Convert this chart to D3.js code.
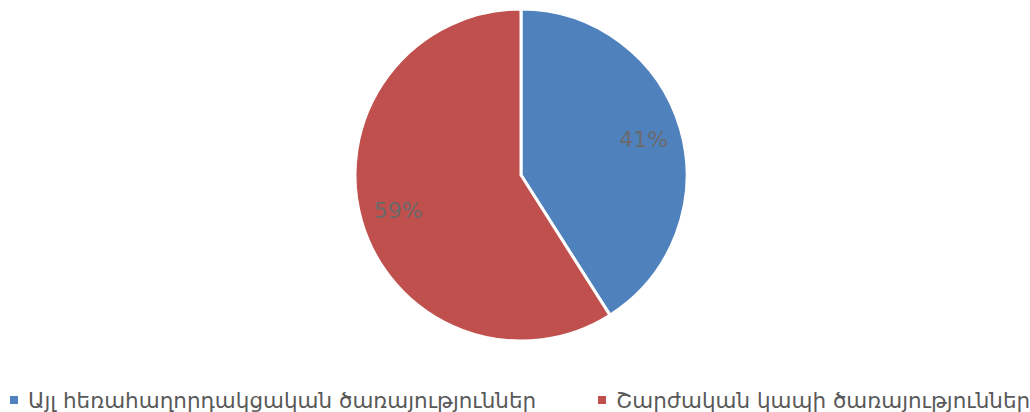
<!DOCTYPE html>
<html>
<head>
<meta charset="utf-8">
<script src="https://cdn.jsdelivr.net/npm/d3@7"></script>
<style>
    body { margin: 0; background: #fff; }
    svg { display: block; font-family: 'DejaVu Sans', Verdana, sans-serif; }
</style>
</head>
<body>
<svg id="chart"></svg>
<script>
const categories = ['Այլ հեռահաղորդակցական ծառայություններ', 'Շարժական կապի ծառայություններ'];
const values = [41, 59];
const labels = ['41%', '59%'];
const colors = ['#4F81BD', '#C0504D'];

const pie = () => {
    const w = 1030;
    const h = 412;
    const center = { x: 521, y: 175 };
    const radius = 166;

    const svg = d3.select('#chart').attr('width', w).attr('height', h);

    const data = categories.map((c, i) => ({ name: c, value: values[i], label: labels[i], color: colors[i] }));

    const arcs = d3.pie().sort(null).value((d) => d.value)(data);

    const arc = d3.arc().innerRadius(0).outerRadius(radius);
    const labelArc = d3.arc().innerRadius(radius * 0.77).outerRadius(radius * 0.77);

    const g = svg.append('g').attr('transform', `translate(${center.x},${center.y})`);

    g.selectAll('.slice')
        .data(arcs)
        .enter()
        .append('path')
        .attr('class', 'slice')
        .attr('d', arc)
        .attr('fill', (d) => d.data.color)
        .attr('stroke', '#fff')
        .attr('stroke-width', 3)
        .attr('stroke-linejoin', 'round');

    g.selectAll('.label')
        .data(arcs)
        .enter()
        .append('text')
        .attr('class', 'label')
        .attr('transform', (d) => `translate(${labelArc.centroid(d)})`)
        .attr('text-anchor', 'middle')
        .attr('dominant-baseline', 'central')
        .attr('font-size', 22)
        .attr('fill', '#6a6a6a')
        .text((d) => d.data.label);

    // legend
    const legendX = [10, 598];
    const legend = svg.selectAll('.legend')
        .data(data)
        .enter()
        .append('g')
        .attr('class', 'legend')
        .attr('transform', (d, i) => `translate(${legendX[i]},400)`);

    legend.append('rect')
        .attr('x', 0)
        .attr('y', -4)
        .attr('width', 8)
        .attr('height', 8)
        .attr('fill', (d) => d.color);

    legend.append('text')
        .attr('x', 18)
        .attr('y', 0)
        .attr('dominant-baseline', 'central')
        .attr('font-size', 21.5)
        .attr('fill', '#595959')
        .text((d) => d.name);
};

pie();
</script>
</body>
</html>
